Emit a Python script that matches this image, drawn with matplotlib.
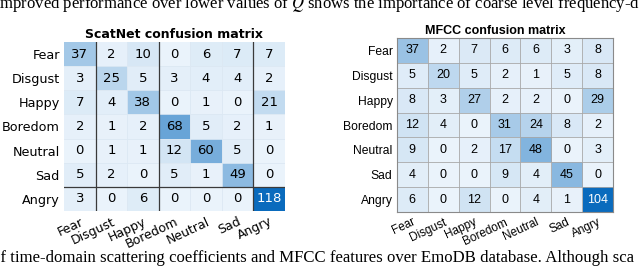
import numpy as np
import matplotlib
matplotlib.use("Agg")
import matplotlib.pyplot as plt
from matplotlib.colors import LinearSegmentedColormap

# ——— data ———
emotions = ["Fear", "Disgust", "Happy", "Boredom", "Neutral", "Sad", "Angry"]

scatnet_cm = np.array([
    [37, 2, 10, 0, 6, 7, 7],
    [3, 25, 5, 3, 4, 4, 2],
    [7, 4, 38, 0, 1, 0, 21],
    [2, 1, 2, 68, 5, 2, 1],
    [0, 1, 1, 12, 60, 5, 0],
    [5, 2, 0, 5, 1, 49, 0],
    [3, 0, 6, 0, 0, 0, 118],
])

mfcc_cm = np.array([
    [37, 2, 7, 6, 6, 3, 8],
    [5, 20, 5, 2, 1, 5, 8],
    [8, 3, 27, 2, 2, 0, 29],
    [12, 4, 0, 31, 24, 8, 2],
    [9, 0, 2, 17, 48, 0, 3],
    [4, 0, 0, 9, 4, 45, 0],
    [6, 0, 12, 0, 4, 1, 104],
])

top_line = "improved performance over lower values of $Q$ shows the importance of coarse level frequency-d"
bottom_line = "of time-domain scattering coefficients and MFCC features over EmoDB database. Although sca"

cmap = LinearSegmentedColormap.from_list("mblue", ["#eaf3fb", "#0a6bbd"])

plt.rcParams["mathtext.fontset"] = "stix"
fig = plt.figure(figsize=(6.4, 2.7), dpi=100)


def draw_matrix(ax, cm, title, family, grid_color, fs, title_x=0.5, thick=None):
    n = len(emotions)
    ax.imshow(cm, cmap=cmap, vmin=0, vmax=cm.max(), aspect="auto",
              interpolation="nearest")
    for i in range(n):
        for j in range(n):
            v = cm[i, j]
            col = "white" if v > 0.7 * cm.max() else "black"
            ax.text(j, i, str(v), ha="center", va="center", fontsize=fs,
                    color=col, family=family)
    for k in range(1, n):
        ax.axvline(k - 0.5, color=grid_color, lw=0.6)
        ax.axhline(k - 0.5, color=grid_color, lw=0.6)
    if thick:
        for k in thick[0]:
            ax.axvline(k - 0.5, color="#3a3a3a", lw=0.9)
        for k in thick[1]:
            ax.axhline(k - 0.5, color="#3a3a3a", lw=0.9)
    ax.set_xticks(range(n))
    ax.set_yticks(range(n))
    ax.set_xticklabels(emotions, rotation=25, ha="right",
                       rotation_mode="anchor", fontsize=fs - 0.5, family=family)
    ax.set_yticklabels(emotions, fontsize=fs - 0.3, family=family)
    ax.tick_params(length=0, pad=3)
    ax.set_title(title, fontsize=9, fontweight="bold", family=family, pad=3,
                 x=title_x)


ax1 = fig.add_axes([0.100, 0.219, 0.345, 0.625])
draw_matrix(ax1, scatnet_cm, "ScatNet confusion matrix", "DejaVu Sans",
            "#dce8f3", 9.5, thick=([1, 3, 6], [6]))
for s in ax1.spines.values():
    s.set_visible(False)

ax2 = fig.add_axes([0.620, 0.215, 0.338, 0.644])
draw_matrix(ax2, mfcc_cm, "MFCC confusion matrix", "Liberation Sans",
            "#a8a8a8", 9, title_x=0.455)
for s in ax2.spines.values():
    s.set_color("#8a8a8a")
    s.set_linewidth(0.8)

# cropped page text above and below
fig.text(-0.008, 0.970, top_line, fontsize=11.95, family="Liberation Serif",
         va="baseline", ha="left")
fig.text(-0.012, 0.028, bottom_line, fontsize=12.1, family="Liberation Serif",
         va="baseline", ha="left")

fig.savefig("out.png", dpi=100)
